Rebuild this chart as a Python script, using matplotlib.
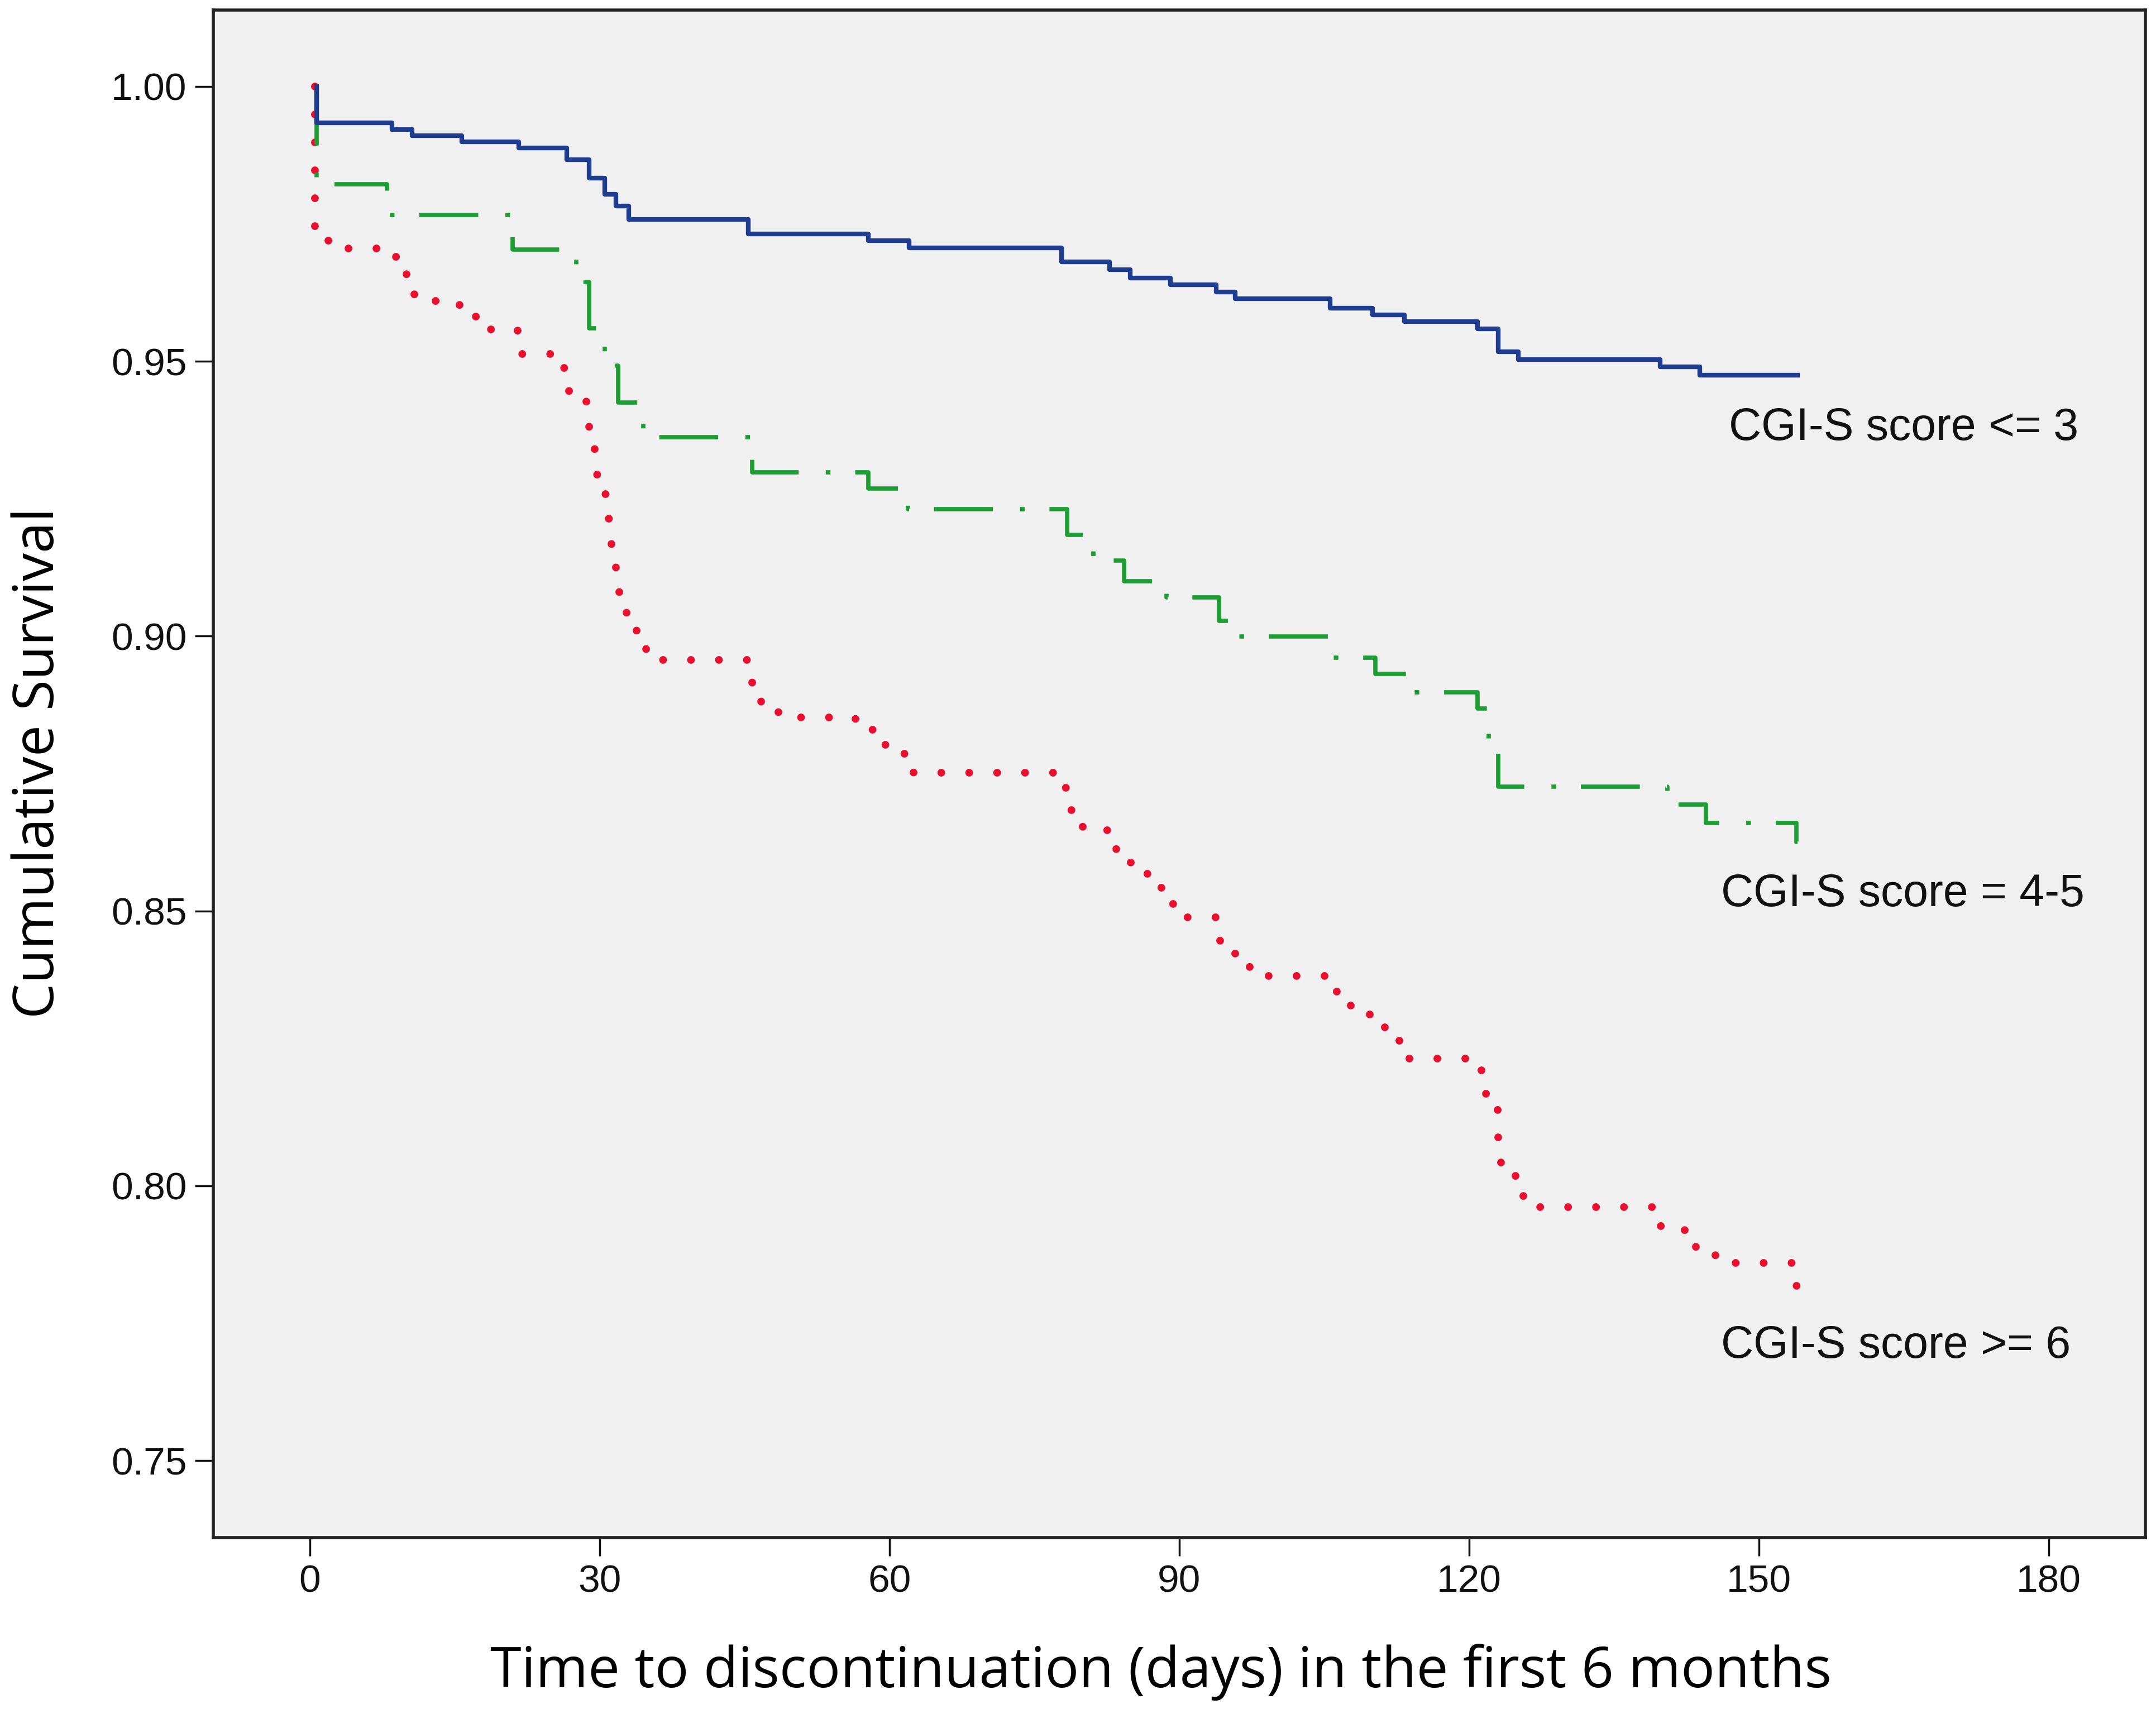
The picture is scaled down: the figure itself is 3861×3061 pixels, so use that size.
import matplotlib
matplotlib.use('Agg')
import matplotlib.pyplot as plt

# Kaplan-Meier curves: event day -> survival after the event
blue_time = [0.7, 8.5, 10.6, 15.7, 21.6, 26.6, 28.9, 30.5, 31.7, 33.0, 45.4, 57.8,
             62.0, 77.8, 82.8, 84.9, 89.1, 93.8, 95.8, 105.6, 110.0, 113.3, 120.9,
             123.0, 125.1, 139.8, 143.9]
blue_surv = [0.9934, 0.9922, 0.9911, 0.9899, 0.9888, 0.9867, 0.9833, 0.9804, 0.9783,
             0.9758, 0.9732, 0.9720, 0.9706, 0.9681, 0.9667, 0.9652, 0.9639, 0.9626,
             0.9614, 0.9597, 0.9584, 0.9572, 0.9559, 0.9517, 0.9503, 0.9490, 0.9475]

green_time = [0.7, 8.0, 21.0, 27.6, 28.9, 30.5, 31.9, 34.5, 45.8, 57.8, 61.9, 78.4,
              81.1, 84.3, 88.7, 94.1, 95.8, 105.9, 110.3, 113.8, 120.9, 122.0, 123.0,
              140.5, 144.5, 153.9]
green_surv = [0.9822, 0.9766, 0.9703, 0.9644, 0.9560, 0.9492, 0.9425, 0.9362, 0.9298,
              0.9269, 0.9231, 0.9184, 0.9138, 0.9100, 0.9070, 0.9028, 0.8999, 0.8961,
              0.8931, 0.8898, 0.8868, 0.8800, 0.8726, 0.8694, 0.8660, 0.8626]

red_time = [0.5, 2.0, 8.5, 10.0, 10.8, 15.5, 17.5, 21.5, 26.0, 26.8, 28.6, 28.9, 29.5,
            30.2, 30.9, 31.2, 31.7, 32.0, 32.8, 33.8, 34.8, 45.8, 46.7, 48.5, 56.5,
            58.8, 61.0, 62.5, 77.5, 78.8, 80.0, 83.5, 85.0, 87.0, 89.0, 90.5, 94.2,
            95.8, 97.3, 105.5, 107.7, 109.7, 111.3, 112.8, 121.3, 122.8, 123.0, 123.3,
            124.8, 125.6, 139.3, 142.3, 143.5, 145.5, 153.6]
red_surv = [0.9720, 0.9705, 0.9690, 0.9655, 0.9610, 0.9581, 0.9558, 0.9513, 0.9488,
            0.9433, 0.9408, 0.9349, 0.9294, 0.9258, 0.9214, 0.9159, 0.9113, 0.9063,
            0.9021, 0.8982, 0.8957, 0.8902, 0.8869, 0.8852, 0.8830, 0.8802, 0.8786,
            0.8752, 0.8724, 0.8683, 0.8647, 0.8593, 0.8568, 0.8542, 0.8513, 0.8488,
            0.8433, 0.8403, 0.8382, 0.8353, 0.8328, 0.8306, 0.8269, 0.8231, 0.8167,
            0.8138, 0.8062, 0.8020, 0.7995, 0.7961, 0.7927, 0.7910, 0.7877, 0.7860,
            0.7818]

end_time = 154.0
group_labels = ['CGI-S score <= 3', 'CGI-S score = 4-5', 'CGI-S score >= 6']
label_pos = [(146.9, 0.9378), (146.1, 0.8530), (146.1, 0.7708)]

x_ticks = [0, 30, 60, 90, 120, 150, 180]
y_ticks = [0.75, 0.80, 0.85, 0.90, 0.95, 1.00]

plt.rcParams['lines.scale_dashes'] = False


def km_path(times, surv):
    xs = [times[0]] + list(times) + [end_time]
    ys = [1.0] + list(surv) + [surv[-1]]
    return xs, ys


fig = plt.figure(figsize=(38.62, 30.61), dpi=100)
ax = fig.add_axes([0.0989, 0.1003, 0.8959, 0.8938])
ax.set_facecolor('#f0f0f0')

xs, ys = km_path(red_time, red_surv)
ax.plot(xs, ys, drawstyle='steps-post', color='#e8102e', linewidth=10,
        dashes=(0.01, 36), dash_capstyle='round')
xs, ys = km_path(green_time, green_surv)
ax.plot(xs, ys, drawstyle='steps-post', color='#1c9e33', linewidth=5.5,
        dashes=(76, 35, 6, 32))
xs, ys = km_path(blue_time, blue_surv)
ax.plot(xs, ys, drawstyle='steps-post', color='#1f3d8f', linewidth=6)

for txt, (tx, ty) in zip(group_labels, label_pos):
    ax.text(tx, ty, txt, ha='left', va='center', fontsize=58,
            family=['Liberation Sans', 'DejaVu Sans'], color='#111111')

ax.set_xlim(-10, 190)
ax.set_ylim(0.736, 1.0139)
ax.set_xticks(x_ticks)
ax.set_xticklabels([str(v) for v in x_ticks])
ax.set_yticks(y_ticks)
ax.set_yticklabels([f'{v:.2f}' for v in y_ticks])
ax.tick_params(axis='both', direction='out', length=24, width=2.5, pad=10,
               labelsize=50, colors='#111111')
for lab in ax.get_xticklabels() + ax.get_yticklabels():
    lab.set_family(['Liberation Sans', 'DejaVu Sans'])
for sp in ax.spines.values():
    sp.set_linewidth(4)
    sp.set_color('#222222')

fig.text(0.5383, 0.0216, 'Time to discontinuation (days) in the first 6 months',
         ha='center', va='center', fontsize=73, family=['Open Sans', 'DejaVu Sans'])
fig.text(0.0181, 0.5534, 'Cumulative Survival', rotation=90, ha='center',
         va='center', fontsize=72, family=['Open Sans', 'DejaVu Sans'])

fig.savefig('out.png', dpi=100)
